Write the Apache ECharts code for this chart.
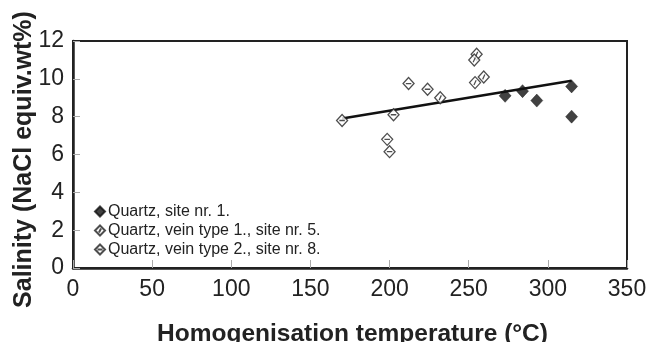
<!DOCTYPE html>
<html>
<head>
<meta charset="utf-8">
<script src="https://cdn.jsdelivr.net/npm/echarts@6/dist/echarts.min.js"></script>
<style>html,body{margin:0;padding:0;background:#fff;}#c{width:647px;height:342px;}</style>
</head>
<body>
<div id="c"></div>
<script>
// Data (temperature °C, salinity wt%)
const seriesNames = ["Quartz, site nr. 1.", "Quartz, vein type 1., site nr. 5.", "Quartz, vein type 2., site nr. 8."];
const site1 = [[273, 9.1], [284, 9.35], [293, 8.85], [315, 9.6], [315, 8.0]];
const veinType1 = [[232, 9.0], [254, 9.8], [259.5, 10.1], [255, 11.3], [253.5, 11.0]];
const veinType2 = [[170, 7.8], [198.5, 6.8], [200, 6.15], [202.5, 8.1], [212, 9.75], [224, 9.45]];
const trendLine = [[170, 7.9], [315, 9.9]];
const xTicks = [0, 50, 100, 150, 200, 250, 300, 350];
const yTicks = [0, 2, 4, 6, 8, 10, 12];

const font = 'Liberation Sans, Arial, sans-serif';
const diamondSlash = 'path://M0,-10 L10,0 L0,10 L-10,0 Z M-2,4 L2,-4';
const diamondBar = 'path://M0,-10 L10,0 L0,10 L-10,0 Z M-5,0 L5,0';

const chart = echarts.init(document.getElementById('c'), null, {renderer: 'canvas'});
chart.setOption({
  animation: false,
  backgroundColor: '#fff',
  grid: {left: 73, right: 20, top: 41, bottom: 74, show: true, borderColor: '#222', borderWidth: 2,
         outerBoundsMode: 'none', containLabel: false},
  legend: {
    data: seriesNames,
    orient: 'vertical',
    left: 89,
    top: 198,
    itemWidth: 10,
    itemHeight: 10,
    itemGap: 2,
    textStyle: {fontFamily: font, fontSize: 16, color: '#222', lineHeight: 17, padding: [0, 0, 0, -2]}
  },
  xAxis: {
    type: 'value', min: xTicks[0], max: xTicks[xTicks.length - 1], interval: 50,
    name: 'Homogenisation temperature (°C)', nameLocation: 'middle', nameGap: 54, nameMoveOverlap: false,
    nameTextStyle: {fontFamily: font, fontSize: 24.5, fontWeight: 'bold', color: '#222', padding: [0, 0, 0, 5]},
    axisLine: {show: true, lineStyle: {color: '#222', width: 2.5}},
    axisTick: {show: true, inside: true, length: 8, lineStyle: {color: '#aaa', width: 1}},
    axisLabel: {fontFamily: font, fontSize: 23, color: '#222', margin: 10},
    splitLine: {show: false}
  },
  yAxis: {
    type: 'value', min: yTicks[0], max: yTicks[yTicks.length - 1], interval: 2,
    name: 'Salinity (NaCl equiv.wt%)', nameLocation: 'middle', nameGap: 36, nameMoveOverlap: false,
    nameTextStyle: {fontFamily: font, fontSize: 25, fontWeight: 'bold', color: '#222', padding: [0, 10, 0, 0]},
    axisLine: {show: true, lineStyle: {color: '#222', width: 2.5}},
    axisTick: {show: true, inside: true, length: 7, lineStyle: {color: '#aaa', width: 1}},
    axisLabel: {fontFamily: font, fontSize: 23, color: '#222', margin: 9},
    splitLine: {show: false}
  },
  series: [
    {name: seriesNames[0], type: 'scatter', data: site1, symbol: 'diamond', symbolSize: [12, 13],
     itemStyle: {color: '#111', borderColor: '#111', borderWidth: 0.5}, z: 5},
    {name: seriesNames[1], type: 'scatter', data: veinType1, symbol: diamondSlash, symbolSize: [11, 12],
     itemStyle: {color: '#fff', borderColor: '#222', borderWidth: 1.3}, z: 4},
    {name: seriesNames[2], type: 'scatter', data: veinType2, symbol: diamondBar, symbolSize: [11, 12],
     itemStyle: {color: '#fff', borderColor: '#222', borderWidth: 1.3}, z: 4},
    {name: 'fit', type: 'line', data: trendLine, symbol: 'none', lineStyle: {color: '#111', width: 2.5}, z: 3}
  ]
});
</script>
</body>
</html>
